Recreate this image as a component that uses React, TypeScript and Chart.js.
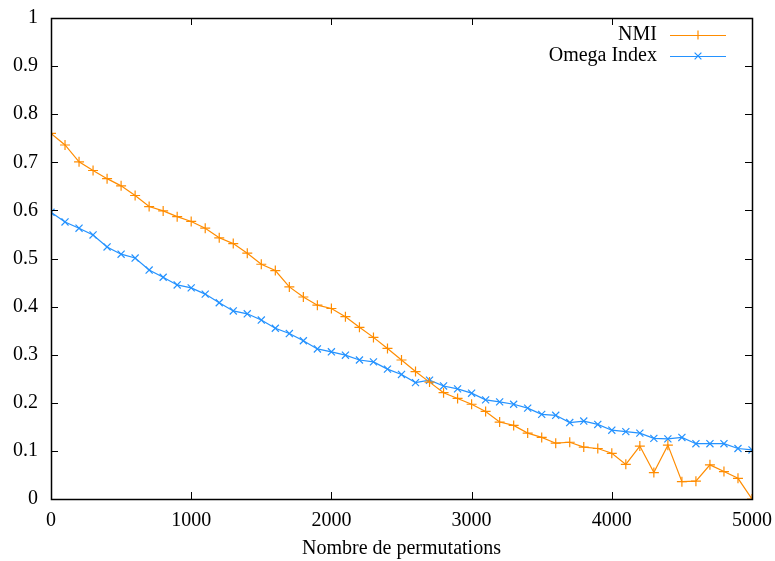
import React, { useEffect, useRef } from "react";
import { Chart, registerables } from "chart.js";

Chart.register(...registerables);

const permutations = [
  0, 100, 200, 300, 400, 500, 600, 700, 800, 900,
  1000, 1100, 1200, 1300, 1400, 1500, 1600, 1700, 1800, 1900,
  2000, 2100, 2200, 2300, 2400, 2500, 2600, 2700, 2800, 2900,
  3000, 3100, 3200, 3300, 3400, 3500, 3600, 3700, 3800, 3900,
  4000, 4100, 4200, 4300, 4400, 4500, 4600, 4700, 4800, 4900,
  5000,
];

const nmi = [
  0.760, 0.736, 0.701, 0.683, 0.666, 0.651, 0.631, 0.608, 0.599, 0.587,
  0.577, 0.563, 0.543, 0.531, 0.511, 0.488, 0.475, 0.441, 0.420, 0.403,
  0.396, 0.379, 0.357, 0.336, 0.313, 0.289, 0.265, 0.243, 0.221, 0.209,
  0.197, 0.182, 0.160, 0.153, 0.137, 0.128, 0.116, 0.118, 0.108, 0.105,
  0.095, 0.072, 0.110, 0.055, 0.112, 0.036, 0.037, 0.071, 0.057, 0.043,
  0.0,
];

const omega = [
  0.596, 0.576, 0.563, 0.549, 0.524, 0.509, 0.501, 0.476, 0.461, 0.445,
  0.439, 0.426, 0.408, 0.391, 0.385, 0.372, 0.355, 0.344, 0.329, 0.312,
  0.306, 0.299, 0.289, 0.285, 0.270, 0.259, 0.242, 0.247, 0.235, 0.229,
  0.220, 0.206, 0.202, 0.197, 0.189, 0.176, 0.174, 0.159, 0.162, 0.155,
  0.143, 0.140, 0.137, 0.126, 0.125, 0.128, 0.115, 0.115, 0.115, 0.105,
  0.102,
];

const xTicks = [0, 1000, 2000, 3000, 4000, 5000];
const xTickLabels = ["0", "1000", "2000", "3000", "4000", "5000"];
const yTicks = [0, 0.1, 0.2, 0.3, 0.4, 0.5, 0.6, 0.7, 0.8, 0.9, 1];
const yTickLabels = ["0", "0.1", "0.2", "0.3", "0.4", "0.5", "0.6", "0.7", "0.8", "0.9", "1"];
const seriesNames = ["NMI", "Omega Index"];
const xTitle = "Nombre de permutations";

const ORANGE = "#ff8c00";
const BLUE = "#2492ff";
const FONT = "'Liberation Serif', 'DejaVu Serif', serif";
const FONT_SIZE = 20;

const framePlugin = {
  id: "frame",
  afterDraw(chart: any) {
    const { ctx, chartArea } = chart;
    const { left, right, top, bottom } = chartArea;
    const xs = chart.scales.x;
    const ys = chart.scales.y;
    const tl = 7;
    ctx.save();
    ctx.strokeStyle = "#000";
    ctx.lineWidth = 1;
    ctx.beginPath();
    xTicks.forEach((v) => {
      const px = Math.round(xs.getPixelForValue(v)) + 0.5;
      ctx.moveTo(px, bottom);
      ctx.lineTo(px, bottom - tl);
      ctx.moveTo(px, top);
      ctx.lineTo(px, top + tl);
    });
    yTicks.forEach((v) => {
      const py = Math.round(ys.getPixelForValue(v)) + 0.5;
      ctx.moveTo(left, py);
      ctx.lineTo(left + tl, py);
      ctx.moveTo(right, py);
      ctx.lineTo(right - tl, py);
    });
    ctx.stroke();
    ctx.lineWidth = 1.5;
    ctx.strokeRect(Math.round(left) + 0.5, Math.round(top) + 0.5, Math.round(right - left), Math.round(bottom - top));

    // tick labels and title
    ctx.font = `${FONT_SIZE}px ${FONT}`;
    ctx.fillStyle = "#000";
    ctx.textBaseline = "middle";
    ctx.textAlign = "right";
    yTicks.forEach((v, i) => {
      ctx.fillText(yTickLabels[i], left - 13, ys.getPixelForValue(v));
    });
    ctx.textAlign = "center";
    xTicks.forEach((v, i) => {
      ctx.fillText(xTickLabels[i], xs.getPixelForValue(v), bottom + 22);
    });
    ctx.fillText(xTitle, (left + right) / 2, bottom + 50);

    // legend
    ctx.textAlign = "right";
    const colors = [ORANGE, BLUE];
    const textRight = right - 95;
    const lineL = right - 82;
    const lineR = right - 26;
    seriesNames.forEach((name, i) => {
      const y = top + 17 + i * 21;
      ctx.fillStyle = "#000";
      ctx.fillText(name, textRight, y);
      ctx.strokeStyle = colors[i];
      ctx.lineWidth = 1.2;
      ctx.beginPath();
      ctx.moveTo(lineL, y + 0.5);
      ctx.lineTo(lineR, y + 0.5);
      const mx = (lineL + lineR) / 2;
      const r = 4.5;
      if (i === 0) {
        ctx.moveTo(mx, y - r);
        ctx.lineTo(mx, y + r);
      } else {
        const d = r * 0.75;
        ctx.moveTo(mx - d, y - d);
        ctx.lineTo(mx + d, y + d);
        ctx.moveTo(mx - d, y + d);
        ctx.lineTo(mx + d, y - d);
      }
      ctx.stroke();
    });
    ctx.restore();
  },
};

export default function App() {
  const ref = useRef<HTMLCanvasElement | null>(null);
  useEffect(() => {
    if (!ref.current) return;
    const chart = new Chart(ref.current, {
      type: "line",
      data: {
        datasets: [
          {
            label: seriesNames[0],
            data: permutations.map((x, i) => ({ x, y: nmi[i] })),
            borderColor: ORANGE,
            backgroundColor: ORANGE,
            borderWidth: 1.2,
            pointStyle: "cross",
            pointRadius: 5,
            pointBorderWidth: 1.2,
            pointBorderColor: ORANGE,
            fill: false,
            tension: 0,
          },
          {
            label: seriesNames[1],
            data: permutations.map((x, i) => ({ x, y: omega[i] })),
            borderColor: BLUE,
            backgroundColor: BLUE,
            borderWidth: 1.2,
            pointStyle: "crossRot",
            pointRadius: 5,
            pointBorderWidth: 1.2,
            pointBorderColor: BLUE,
            fill: false,
            tension: 0,
          },
        ],
      },
      options: {
        animation: false,
        responsive: false,
        maintainAspectRatio: false,
        layout: { padding: { top: 18, right: 23, left: 0, bottom: 0 } },
        plugins: {
          legend: { display: false },
          tooltip: { enabled: false },
        },
        scales: {
          x: {
            type: "linear",
            min: 0,
            max: 5000,
            afterFit: (s: any) => {
              s.height = 62;
            },
            grid: { display: false, drawTicks: false },
            border: { display: false },
            ticks: { display: false },
          },
          y: {
            type: "linear",
            min: 0,
            max: 1,
            afterFit: (s: any) => {
              s.width = 51;
            },
            grid: { display: false, drawTicks: false },
            border: { display: false },
            ticks: { display: false },
          },
        },
      },
      plugins: [framePlugin],
    });
    return () => chart.destroy();
  }, []);
  return (
    <div style={{ position: "fixed", left: 0, top: 0, width: 775, height: 561, background: "#fff" }}>
      <canvas ref={ref} width={775} height={561} style={{ width: 775, height: 561, display: "block" }} />
    </div>
  );
}
